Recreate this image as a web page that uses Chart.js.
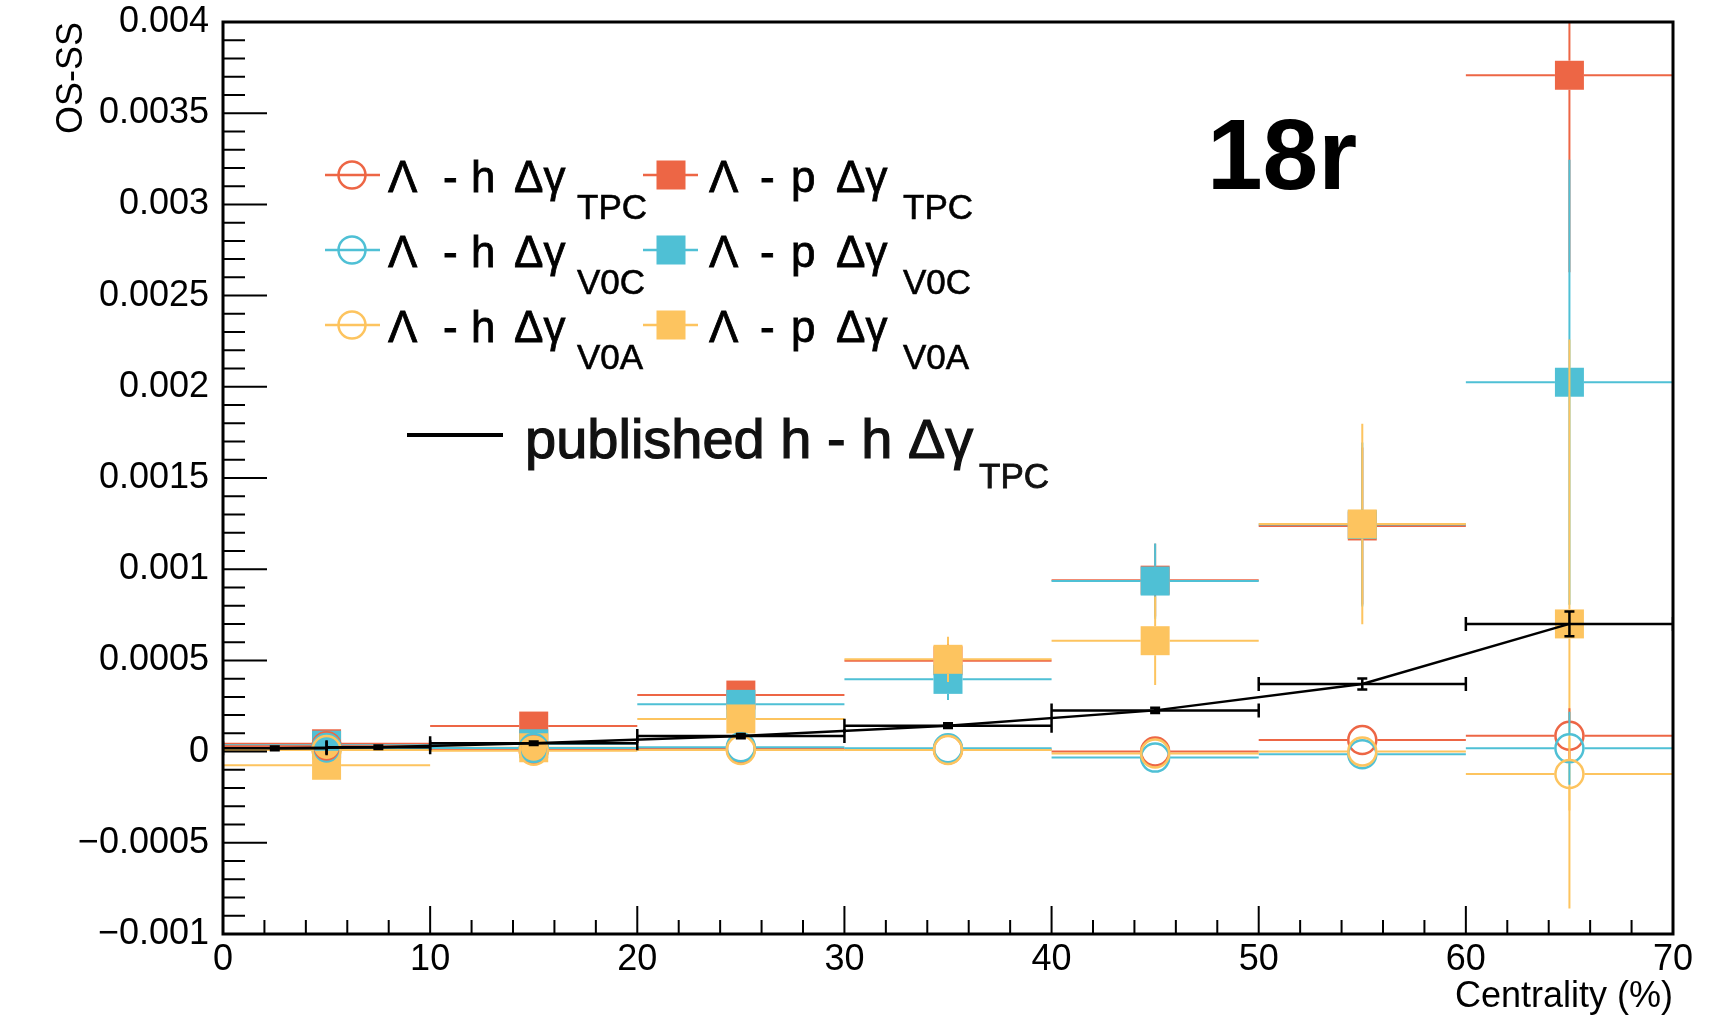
<!DOCTYPE html>
<html>
<head>
<meta charset="utf-8">
<script src="https://cdn.jsdelivr.net/npm/chart.js@4.4.1/dist/chart.umd.min.js"></script>
<style>
  html, body { margin: 0; padding: 0; background: #fff; }
  #wrap { position: relative; width: 1727px; height: 1015px; }
</style>
</head>
<body>
<div id="wrap"><canvas id="chart"></canvas></div>
<script>
// centrality bins (%)
const binCenters = [5, 15, 25, 35, 45, 55, 65];
const binHalf    = [5, 5, 5, 5, 5, 5, 5];

// Λ - p Δγ (filled squares)
const lpTPC    = [0.000043, 0.000140, 0.000310, 0.000498, 0.000940, 0.001237, 0.003708];
const lpTPCErr = [0.000010, 0.000020, 0.000040, 0.000120, 0.000200, 0.000430, 0.001080];
const lpV0C    = [0.000035, 0.000043, 0.000259, 0.000396, 0.000935, 0.001245, 0.002025];
const lpV0CErr = [0.000010, 0.000020, 0.000040, 0.000113, 0.000206, 0.000450, 0.001220];
const lpV0A    = [-0.000075, 0.000021, 0.000179, 0.000506, 0.000608, 0.001248, 0.000700];
const lpV0AErr = [0.000010, 0.000020, 0.000040, 0.000124, 0.000243, 0.000550, 0.001560];

// Λ - h Δγ (open circles)
const lhTPC    = [0.000030, 0.000010, 0.000015, 0.000012, 0.000000, 0.000064, 0.000087];
const lhTPCErr = [0.000010, 0.000010, 0.000010, 0.000010, 0.000020, 0.000030, 0.000150];
const lhV0C    = [0.000020, 0.000020, 0.000024, 0.000018, -0.000033, -0.000015, 0.000018];
const lhV0CErr = [0.000010, 0.000010, 0.000010, 0.000010, 0.000020, 0.000030, 0.000200];
const lhV0A    = [0.000009, 0.000005, 0.000009, 0.000009, -0.000010, 0.000000, -0.000123];
const lhV0AErr = [0.000010, 0.000010, 0.000010, 0.000010, 0.000020, 0.000030, 0.000200];

// published h - h Δγ (TPC)
const pubCenters = [2.5, 7.5, 15, 25, 35, 45, 55, 65];
const pubHalf    = [2.5, 2.5, 5, 5, 5, 5, 5, 5];
const pubValues  = [0.000018, 0.000024, 0.000046, 0.000085, 0.000142, 0.000226, 0.000371, 0.000700];
const pubErr     = [0.000010, 0.000010, 0.000010, 0.000012, 0.000013, 0.000014, 0.000030, 0.000068];

const detectors = ['TPC', 'V0C', 'V0A'];
const RED = '#ED6645', CYAN = '#4FC0D5', YEL = '#FDC45F';
const FONT = '"Liberation Sans", Arial, sans-serif';

Chart.defaults.font.family = FONT;
Chart.defaults.color = '#000';

function pts(xs, ys){ return xs.map((x, i) => ({ x, y: ys[i] })); }

function squares(ys, err, color, order){
  return {
    data: pts(binCenters, ys), xErr: binHalf, yErr: err, errColor: color, errWidth: 2, gap: 14.5,
    pointStyle: 'rect', pointRadius: 20.5, pointBorderWidth: 0,
    pointBackgroundColor: color, order
  };
}
function circles(ys, err, color, order){
  return {
    data: pts(binCenters, ys), xErr: binHalf, yErr: err, errColor: color, errWidth: 2, gap: 15,
    pointStyle: 'circle', pointRadius: 14, pointBorderWidth: 2.5,
    pointBorderColor: color, pointBackgroundColor: 'rgba(0,0,0,0)', order
  };
}

const datasets = [
  squares(lpTPC, lpTPCErr, RED, 6),
  squares(lpV0C, lpV0CErr, CYAN, 5),
  squares(lpV0A, lpV0AErr, YEL, 4),
  circles(lhTPC, lhTPCErr, RED, 3),
  circles(lhV0C, lhV0CErr, CYAN, 2),
  circles(lhV0A, lhV0AErr, YEL, 1),
  {
    data: pts(pubCenters, pubValues), xErr: pubHalf, yErr: pubErr, errColor: '#000', errWidth: 2.5, gap: 0, caps: true,
    showLine: true, borderColor: '#000', borderWidth: 2.5, pointRadius: 0, tension: 0, order: 0
  }
];

function fmtTick(v){
  const r = Math.round(v * 1e4) / 1e4;
  if (r === 0) return '0';
  return (r < 0 ? '\u2212' : '') + String(Math.abs(r));
}

// error bars drawn right before each dataset, ROOT style
const errorBars = {
  id: 'errorBars',
  beforeDatasetDraw(chart, args){
    const ds = chart.data.datasets[args.index];
    if (!ds.yErr) return;
    const { ctx, chartArea: a, scales: { x, y } } = chart;
    ctx.save();
    ctx.beginPath(); ctx.rect(a.left, a.top, a.right - a.left, a.bottom - a.top); ctx.clip();
    ctx.strokeStyle = ds.errColor; ctx.lineWidth = ds.errWidth;
    ds.data.forEach((p, i) => {
      const px = x.getPixelForValue(p.x), py = y.getPixelForValue(p.y);
      const xl = x.getPixelForValue(p.x - ds.xErr[i]), xr = x.getPixelForValue(p.x + ds.xErr[i]);
      const yt = y.getPixelForValue(p.y + ds.yErr[i]), yb = y.getPixelForValue(p.y - ds.yErr[i]);
      const g = ds.gap;
      ctx.beginPath();
      ctx.moveTo(xl, py); ctx.lineTo(px - g, py);
      ctx.moveTo(px + g, py); ctx.lineTo(xr, py);
      if (yt < py - g) { ctx.moveTo(px, py - g); ctx.lineTo(px, yt); }
      if (yb > py + g) { ctx.moveTo(px, py + g); ctx.lineTo(px, yb); }
      if (ds.caps) {
        ctx.moveTo(xl, py - 7); ctx.lineTo(xl, py + 7);
        ctx.moveTo(xr, py - 7); ctx.lineTo(xr, py + 7);
        ctx.moveTo(px - 5, yt); ctx.lineTo(px + 5, yt);
        ctx.moveTo(px - 5, yb); ctx.lineTo(px + 5, yb);
      }
      ctx.stroke();
    });
    ctx.restore();
  }
};

// frame box and inner ticks
const frame = {
  id: 'frame',
  afterDatasetsDraw(chart){
    const { ctx, chartArea: a, scales: { x, y } } = chart;
    ctx.save();
    ctx.strokeStyle = '#000';
    ctx.lineWidth = 2;
    ctx.beginPath();
    for (let i = 0; i <= 50; i++) {
      const py = y.getPixelForValue(-0.001 + i * 0.0001);
      ctx.moveTo(a.left, py); ctx.lineTo(a.left + (i % 5 === 0 ? 44 : 22), py);
    }
    for (let i = 0; i <= 35; i++) {
      const px = x.getPixelForValue(i * 2);
      ctx.moveTo(px, a.bottom); ctx.lineTo(px, a.bottom - (i % 5 === 0 ? 28 : 14));
    }
    ctx.stroke();
    ctx.lineWidth = 3;
    ctx.strokeRect(a.left, a.top, a.right - a.left, a.bottom - a.top);
    ctx.restore();
  }
};

// a slightly heavier text, like the pasted legend in the original
function boldish(ctx, txt, x, y, w){
  ctx.fillText(txt, x, y);
  ctx.lineWidth = w; ctx.strokeText(txt, x, y);
}

// legend block + period label
const overlay = {
  id: 'overlay',
  afterDraw(chart){
    const ctx = chart.ctx;
    const cols = [RED, CYAN, YEL];
    ctx.save();
    ctx.textBaseline = 'alphabetic';
    ctx.textAlign = 'left';
    detectors.forEach((det, r) => {
      const base = 192 + r * 75, my = base - 17, c = cols[r];
      // open circle marker
      ctx.strokeStyle = c; ctx.lineWidth = 2.5;
      ctx.beginPath(); ctx.moveTo(325, my); ctx.lineTo(380, my); ctx.stroke();
      ctx.beginPath(); ctx.arc(352, my, 13.5, 0, Math.PI * 2); ctx.stroke();
      // filled square marker
      ctx.beginPath(); ctx.moveTo(643, my); ctx.lineTo(698, my); ctx.stroke();
      ctx.fillStyle = c; ctx.fillRect(656.5, my - 14.5, 29, 29);
      ctx.fillStyle = '#000'; ctx.strokeStyle = '#000';
      ctx.font = '44px ' + FONT;
      boldish(ctx, '\u039B', 388, base, 0.8); boldish(ctx, '-', 443, base, 0.8);
      boldish(ctx, 'h', 471, base, 0.8); boldish(ctx, '\u0394\u03B3', 514, base, 0.8);
      boldish(ctx, '\u039B', 709, base, 0.8); boldish(ctx, '-', 760, base, 0.8);
      boldish(ctx, 'p', 791, base, 0.8); boldish(ctx, '\u0394\u03B3', 836, base, 0.8);
      ctx.font = '35px ' + FONT;
      boldish(ctx, det, 577, base + 27, 0.6);
      boldish(ctx, det, 903, base + 27, 0.6);
    });
    ctx.strokeStyle = '#000'; ctx.lineWidth = 4;
    ctx.beginPath(); ctx.moveTo(407, 435); ctx.lineTo(503, 435); ctx.stroke();
    ctx.fillStyle = '#111'; ctx.strokeStyle = '#111';
    ctx.font = '56px ' + FONT;
    boldish(ctx, 'published h - h \u0394\u03B3', 525, 458, 1.2);
    ctx.font = '35px ' + FONT;
    boldish(ctx, 'TPC', 979, 488, 0.8);
    ctx.fillStyle = '#000';
    ctx.font = 'bold 100px ' + FONT;
    ctx.fillText('18r', 1207, 189);
    ctx.restore();
  }
};

new Chart(document.getElementById('chart'), {
  type: 'scatter',
  data: { datasets },
  plugins: [errorBars, frame, overlay],
  options: {
    responsive: true,
    maintainAspectRatio: false,
    animation: false,
    events: [],
    layout: { padding: { top: 22, right: 54, bottom: 0, left: 0 } },
    plugins: { legend: { display: false }, tooltip: { enabled: false } },
    scales: {
      x: {
        type: 'linear', min: 0, max: 70,
        grid: { display: false, drawTicks: false }, border: { display: false },
        ticks: { stepSize: 10, autoSkip: false, maxRotation: 0, padding: 4, color: '#000', font: { size: 36 } },
        title: { display: true, text: 'Centrality (%)', align: 'end', color: '#000', font: { size: 36, lineHeight: 1.0 }, padding: { top: 0, bottom: 0 } },
        afterFit: s => { s.height = 81; s.paddingLeft = 0; s.paddingRight = 0; }
      },
      y: {
        type: 'linear', min: -0.001, max: 0.004,
        grid: { display: false, drawTicks: false }, border: { display: false },
        ticks: { stepSize: 0.0005, autoSkip: false, padding: 14, color: '#000', font: { size: 36 }, callback: v => fmtTick(v) },
        title: { display: true, text: 'OS-SS', align: 'end', color: '#000', font: { size: 36 }, padding: { top: 50, bottom: 0 } },
        afterFit: s => { s.width = 223; s.paddingTop = 0; s.paddingBottom = 0; }
      }
    }
  }
});
</script>
</body>
</html>
